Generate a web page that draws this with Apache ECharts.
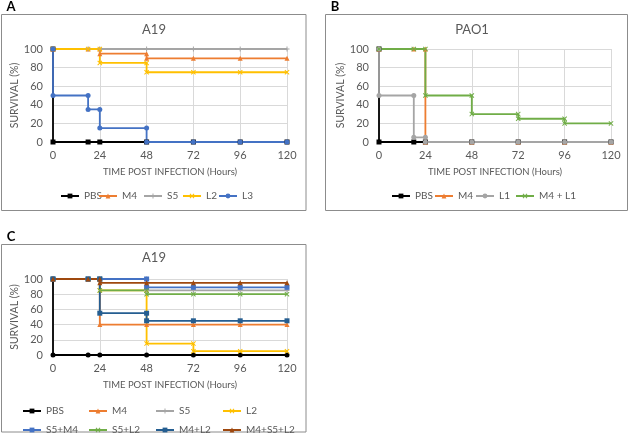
<!DOCTYPE html>
<html><head><meta charset="utf-8">
<script src="https://cdn.jsdelivr.net/npm/echarts@6/dist/echarts.min.js"></script>
<style>html,body{margin:0;padding:0;background:#fff;}#c{width:629px;height:442px;}</style>
</head><body><div id="c"></div>
<script>
// ---- Data: [time (h), survival (%)] step points ----
const xTicks = [0, 24, 48, 72, 96, 120];
// Panel A (A19)
const A_names = ['PBS', 'M4', 'S5', 'L2', 'L3'];
const A_PBS = [[0,100],[0,0],[18,0],[24,0],[48,0],[72,0],[96,0],[120,0]];
const A_M4  = [[0,100],[18,100],[24,100],[24,95],[48,95],[48,90],[72,90],[96,90],[120,90]];
const A_S5  = [[0,100],[18,100],[24,100],[48,100],[72,100],[96,100],[120,100]];
const A_L2  = [[0,100],[18,100],[24,100],[24,85],[48,85],[48,75],[72,75],[96,75],[120,75]];
const A_L3  = [[0,100],[0,50],[18,50],[18,35],[24,35],[24,15],[48,15],[48,0],[72,0],[96,0],[120,0]];
// Panel B (PAO1)
const B_names = ['PBS', 'M4', 'L1', 'M4 + L1'];
const B_PBS  = [[0,100],[0,0],[18,0],[24,0],[48,0],[72,0],[96,0],[120,0]];
const B_M4   = [[0,100],[18,100],[24,100],[24,0],[48,0],[72,0],[96,0],[120,0]];
const B_L1   = [[0,100],[0,50],[18,50],[18,5],[24,5],[24,0],[48,0],[72,0],[96,0],[120,0]];
const B_M4L1 = [[0,100],[18,100],[24,100],[24,50],[48,50],[48,30],[72,30],[72,25],[96,25],[96,20],[120,20]];
// Panel C (A19)
const C_names = ['PBS', 'M4', 'S5', 'L2', 'S5+M4', 'S5+L2', 'M4+L2', 'M4+S5+L2'];
const C_PBS    = [[0,100],[0,0],[18,0],[24,0],[48,0],[72,0],[96,0],[120,0]];
const C_M4     = [[0,100],[18,100],[24,100],[24,40],[48,40],[72,40],[96,40],[120,40]];
const C_S5     = [[0,100],[18,100],[24,100],[48,100],[48,85],[72,85],[96,85],[120,85]];
const C_L2     = [[0,100],[18,100],[24,100],[24,85],[48,85],[48,15],[72,15],[72,5],[96,5],[120,5]];
const C_S5M4   = [[0,100],[18,100],[24,100],[48,100],[48,89],[72,89],[96,89],[120,89]];
const C_S5L2   = [[0,100],[18,100],[24,100],[24,85],[48,85],[48,80],[72,80],[96,80],[120,80]];
const C_M4L2   = [[0,100],[18,100],[24,100],[24,55],[48,55],[48,45],[72,45],[96,45],[120,45]];
const C_M4S5L2 = [[0,100],[18,100],[24,100],[24,95],[48,95],[72,95],[96,95],[120,95]];

// ---- Styles ----
const FONT = 'Lato, "Open Sans", sans-serif';
const TXT = '#595959';
const SYM_X = 'path://M0,1.4L1.4,0L5,3.6L8.6,0L10,1.4L6.4,5L10,8.6L8.6,10L5,6.4L1.4,10L0,8.6L3.6,5Z';
const SYM_PLUS = 'path://M4,0H6V4H10V6H6V10H4V6H0V4H4Z';
const styles = {
  'PBS':     {c:'#000000', s:'rect'},
  'M4':      {c:'#ED7D31', s:'triangle'},
  'S5':      {c:'#A5A5A5', s:SYM_PLUS},
  'L2':      {c:'#FFC000', s:SYM_X},
  'L3':      {c:'#4472C4', s:'circle'},
  'L1':      {c:'#A5A5A5', s:'circle'},
  'M4 + L1': {c:'#70AD47', s:SYM_X},
  'S5+M4':   {c:'#4472C4', s:'rect'},
  'S5+L2':   {c:'#70AD47', s:SYM_X},
  'M4+L2':   {c:'#255E91', s:'rect'},
  'M4+S5+L2':{c:'#9E480E', s:'triangle'}
};
const cPBS = {c:'#000000', s:'circle'};

const grids = [
  {left: 53, top: 49, width: 234, height: 93},
  {left: 379, top: 49, width: 232, height: 93},
  {left: 53, top: 279, width: 234, height: 76}
];

function xAx(i){
  return {type:'value', gridIndex:i, min:0, max:120, interval:24,
    name:'TIME POST INFECTION (Hours)', nameLocation:'middle', nameGap:25,
    nameTextStyle:{color:TXT, fontFamily:FONT, fontSize:9.5},
    axisLine:{show:false}, axisTick:{show:false},
    axisLabel:{color:TXT, fontFamily:FONT, fontSize:11, margin:8},
    splitLine:{show:true, lineStyle:{color:'#D9D9D9', width:1}}};
}
function yAx(i){
  return {type:'value', gridIndex:i, min:0, max:100, interval:20,
    name:'SURVIVAL (%)', nameLocation:'middle', nameGap:28, nameRotate:90,
    nameTextStyle:{color:TXT, fontFamily:FONT, fontSize:10.5},
    axisLine:{show:false}, axisTick:{show:false},
    axisLabel:{color:TXT, fontFamily:FONT, fontSize:11, margin:10},
    splitLine:{show:true, lineStyle:{color:'#D9D9D9', width:1}}};
}

function mk(name, data, gi, override){
  const st = override || styles[name];
  return {type:'line', name:name, data:data, xAxisIndex:gi, yAxisIndex:gi,
    symbol:st.s, symbolSize:5, showSymbol:true, showAllSymbol:true,
    itemStyle:{color:st.c}, lineStyle:{color:st.c, width:1.8},
    animation:false, silent:true, emphasis:{disabled:true}};
}
const series = [
  mk('PBS', A_PBS, 0), mk('M4', A_M4, 0), mk('S5', A_S5, 0), mk('L2', A_L2, 0), mk('L3', A_L3, 0),
  mk('PBS', B_PBS, 1), mk('M4', B_M4, 1), mk('L1', B_L1, 1), mk('M4 + L1', B_M4L1, 1),
  mk('PBS', C_PBS, 2, cPBS), mk('M4', C_M4, 2), mk('S5', C_S5, 2), mk('L2', C_L2, 2),
  mk('S5+M4', C_S5M4, 2), mk('S5+L2', C_S5L2, 2), mk('M4+L2', C_M4L2, 2), mk('M4+S5+L2', C_M4S5L2, 2)
];

// legend items: one small legend per item, placed at the reference's icon positions
const legTxt = {color:TXT, fontFamily:FONT, fontSize:10};
function leg(name, left, top){
  return {data:[{name:name}], left:left, top:top, padding:0, itemWidth:18, itemHeight:6,
    textStyle:legTxt, selectedMode:false};
}
const legA = [60, 98, 143, 182, 218];
const legB = [391, 434, 475, 515];
const legC = [22, 88, 155, 222];
const legends = [];
A_names.forEach((n,i) => legends.push(leg(n, legA[i], 191)));
B_names.forEach((n,i) => legends.push(leg(n, legB[i], 191)));
C_names.forEach((n,i) => legends.push(leg(n, legC[i%4], i<4 ? 406 : 425)));

function txt(t, x, y, size, color, weight){
  return {type:'text', silent:true, style:{text:t, x:x, y:y, fill:color||TXT, font:(weight||'normal')+' '+size+'px '+FONT, textAlign:'center', textVerticalAlign:'middle'}};
}
const graphic = [
  {type:'rect', silent:true, shape:{x:1.5, y:14.5, width:304.5, height:196}, style:{fill:'none', stroke:'#8C8C8C', lineWidth:1}},
  {type:'rect', silent:true, shape:{x:325.5, y:14.5, width:302, height:196}, style:{fill:'none', stroke:'#8C8C8C', lineWidth:1}},
  {type:'rect', silent:true, shape:{x:1.5, y:244.5, width:304.5, height:187.5}, style:{fill:'none', stroke:'#8C8C8C', lineWidth:1}},
  txt('A', 11, 7, 13, '#000', 'bold'),
  txt('B', 335, 7, 13, '#000', 'bold'),
  txt('C', 11, 237, 13, '#000', 'bold'),
  txt('A19', 154, 30, 13),
  txt('PAO1', 472, 30, 13),
  txt('A19', 154, 258, 13)
];

const chart = echarts.init(document.getElementById('c'), null, {renderer:'canvas'});
chart.setOption({
  animation:false,
  grid:grids,
  xAxis:[xAx(0), xAx(1), xAx(2)],
  yAxis:[yAx(0), yAx(1), yAx(2)],
  legend:legends,
  series:series,
  graphic:graphic
});
</script></body></html>
